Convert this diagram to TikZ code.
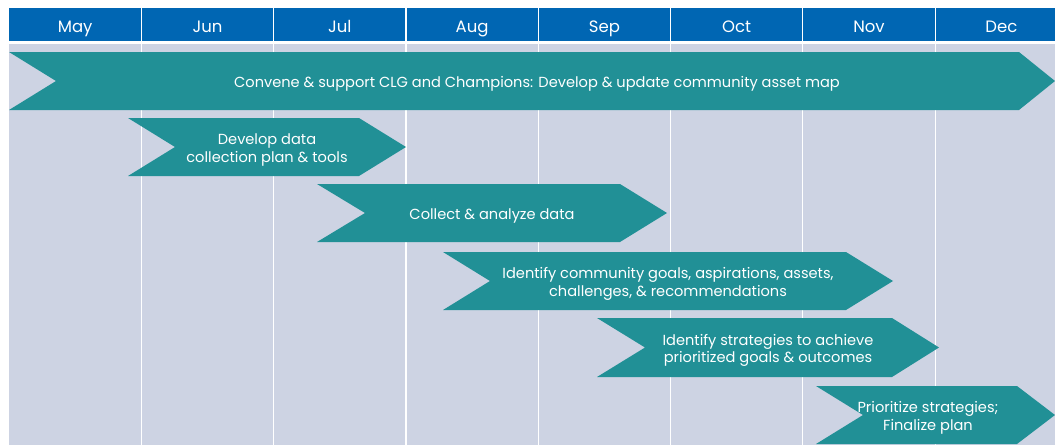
\documentclass[tikz,border=0pt]{standalone}
\usepackage{fontspec}
\setmainfont{Poppins}
\definecolor{hdrblue}{RGB}{0,102,179}
\definecolor{chevfill}{RGB}{33,144,150}
\definecolor{bodybg}{RGB}{205,211,227}
\tikzset{
  month/.style={text=white, font=\fontsize{16.5}{18}\selectfont, inner sep=0pt, anchor=base},
  chevron/.style={fill=chevfill, draw=none},
  chevtext/.style={text=white, font=\fontsize{14.6}{17.4}\selectfont, align=center, inner sep=0pt, yshift=-3pt},
  chevline/.style={text=white, font=\fontsize{14.6}{17.4}\selectfont, inner sep=0pt, anchor=base},
  divider/.style={draw=white, line width=1.2pt},
}
\begin{document}
\begin{tikzpicture}[x=1pt,y=-1pt]
\useasboundingbox (0,0) rectangle (1055,445);
\clip (0,0) rectangle (1055,445);
\fill[white] (0,0) rectangle (1055,445);
\fill[hdrblue] (9,8) rectangle (1070,41);
\fill[bodybg] (9,44) rectangle (1070,445);
\foreach \i in {1,...,7} {
  \draw[divider] ({9+132.3*\i},8) -- ({9+132.3*\i},445);
}
\foreach \m [count=\i from 0] in {May,Jun,Jul,Aug,Sep,Oct,Nov,Dec} {
  \node[month] (m\i) at ({75.2+132.3*\i},32.3) {\m};
}
% chevrons
\fill[chevron] (9,52) -- (1019,52) -- (1055,81) -- (1019,110) -- (9,110) -- (56,81) -- cycle;
\node[chevline] (a1) at (537,87.3) {Convene \& support CLG and Champions: Develop \& update community asset map};
\fill[chevron] (128,118) -- (359,118) -- (406,147) -- (359,176) -- (128,176) -- (175,147) -- cycle;
\node[chevtext] (a2) at (267,147) {Develop data\\collection plan \& tools};
\fill[chevron] (317,184) -- (620,184) -- (667,213) -- (620,242) -- (317,242) -- (365,213) -- cycle;
\node[chevline] (a3) at (492,219) {Collect \& analyze data};
\fill[chevron] (443,252) -- (846,252) -- (893,281) -- (846,310) -- (443,310) -- (490,281) -- cycle;
\node[chevtext] (a4) at (668,281) {Identify community goals, aspirations, assets,\\challenges, \& recommendations};
\fill[chevron] (597,318) -- (892,318) -- (939,347.5) -- (892,377) -- (597,377) -- (645,347.5) -- cycle;
\node[chevtext] (a5) at (768,347.5) {Identify strategies to achieve\\prioritized goals \& outcomes};
\fill[chevron] (816,386) -- (1017,386) -- (1055,415) -- (1017,444) -- (816,444) -- (863,415) -- cycle;
\node[chevtext] (a6) at (928,415) {Prioritize strategies;\\Finalize plan};
\end{tikzpicture}
\end{document}
